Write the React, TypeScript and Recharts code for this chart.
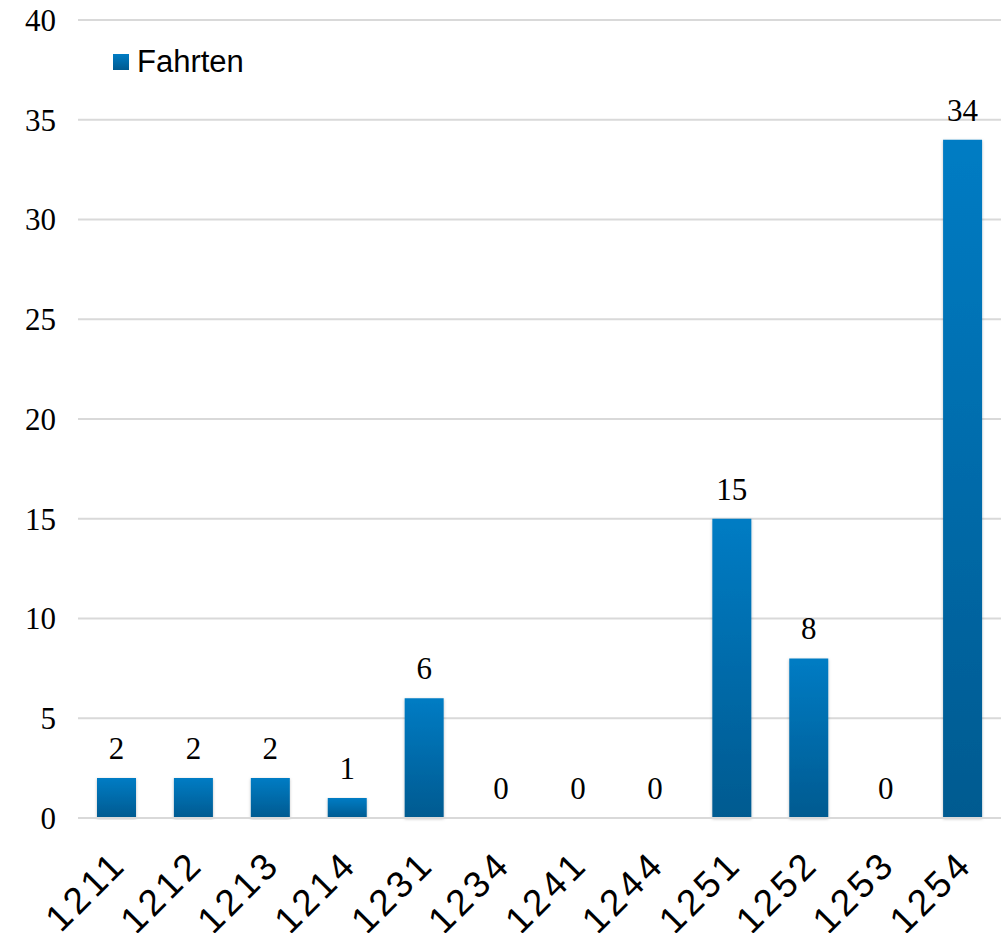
import { ComposedChart, Bar, Line, XAxis, YAxis, CartesianGrid } from 'recharts';

const categories = ['1211', '1212', '1213', '1214', '1231', '1234', '1241', '1244', '1251', '1252', '1253', '1254'];
const fahrten = [2, 2, 2, 1, 6, 0, 0, 0, 15, 8, 0, 34];
const yTicks = [0, 5, 10, 15, 20, 25, 30, 35, 40];

const data = categories.map((name, i) => ({ name, fahrten: fahrten[i] }));

const XTick = ({ x, y, payload }: any) => (
  <g transform={`translate(${x + 12},${y + 48})`}>
    <text
      textAnchor="end"
      transform="rotate(-45)"
      fontFamily="'Liberation Sans', Arial, sans-serif"
      fontSize={37}
      letterSpacing={4}
      fill="#000"
    >
      {payload.value}
    </text>
  </g>
);

const YTick = ({ x, y, payload }: any) => (
  <text
    x={x - 22}
    y={y}
    dy="0.35em"
    textAnchor="end"
    fontFamily="'Liberation Serif', 'Times New Roman', serif"
    fontSize={31}
    fill="#000"
  >
    {payload.value}
  </text>
);

// value labels above each bar, zeros included
const ValueLabel = ({ x, y, value }: any) => (
  <text
    x={x}
    y={y - 19}
    textAnchor="middle"
    fontFamily="'Liberation Serif', 'Times New Roman', serif"
    fontSize={31}
    fill="#000"
  >
    {value}
  </text>
);

const LegendBox = () => (
  <div
    style={{
      position: 'absolute',
      left: 113,
      top: 44,
      display: 'flex',
      alignItems: 'center',
      fontFamily: "'Liberation Sans', Arial, sans-serif",
      fontSize: 31,
      color: '#000',
    }}
  >
    <span
      style={{
        display: 'inline-block',
        width: 16,
        height: 16,
        marginRight: 8,
        background: 'linear-gradient(#007cc4, #005a90)',
      }}
    />
    Fahrten
  </div>
);

export default function App() {
  return (
    <div style={{ position: 'absolute', left: 0, top: 0, width: 1005, height: 933, background: '#fff' }}>
      <ComposedChart
        width={1005}
        height={933}
        data={data}
        margin={{ top: 20, right: 4, left: 0, bottom: 0 }}
      >
        <defs>
          <linearGradient id="barFill" x1="0" y1="0" x2="0" y2="1">
            <stop offset="0%" stopColor="#007cc4" />
            <stop offset="100%" stopColor="#005a90" />
          </linearGradient>
          <filter id="barShadow" x="-20%" y="-5%" width="140%" height="110%">
            <feDropShadow dx="0" dy="1" stdDeviation="1.5" floodColor="#000" floodOpacity="0.25" />
          </filter>
        </defs>
        <CartesianGrid vertical={false} stroke="#d9d9d9" strokeWidth={2} />
        <XAxis
          dataKey="name"
          axisLine={{ stroke: '#d9d9d9', strokeWidth: 2 }}
          tickLine={false}
          tickSize={0}
          tickMargin={0}
          height={115}
          interval={0}
          tick={<XTick />}
        />
        <YAxis
          domain={[0, 40]}
          ticks={yTicks}
          width={78}
          axisLine={false}
          tickLine={false}
          tickSize={0}
          tickMargin={0}
          tick={<YTick />}
        />
        <Bar dataKey="fahrten" fill="url(#barFill)" barSize={39} filter="url(#barShadow)" isAnimationActive={false} />
        <Line
          dataKey="fahrten"
          stroke="none"
          dot={false}
          activeDot={false}
          legendType="none"
          label={<ValueLabel />}
          isAnimationActive={false}
        />
      </ComposedChart>
      <LegendBox />
    </div>
  );
}
